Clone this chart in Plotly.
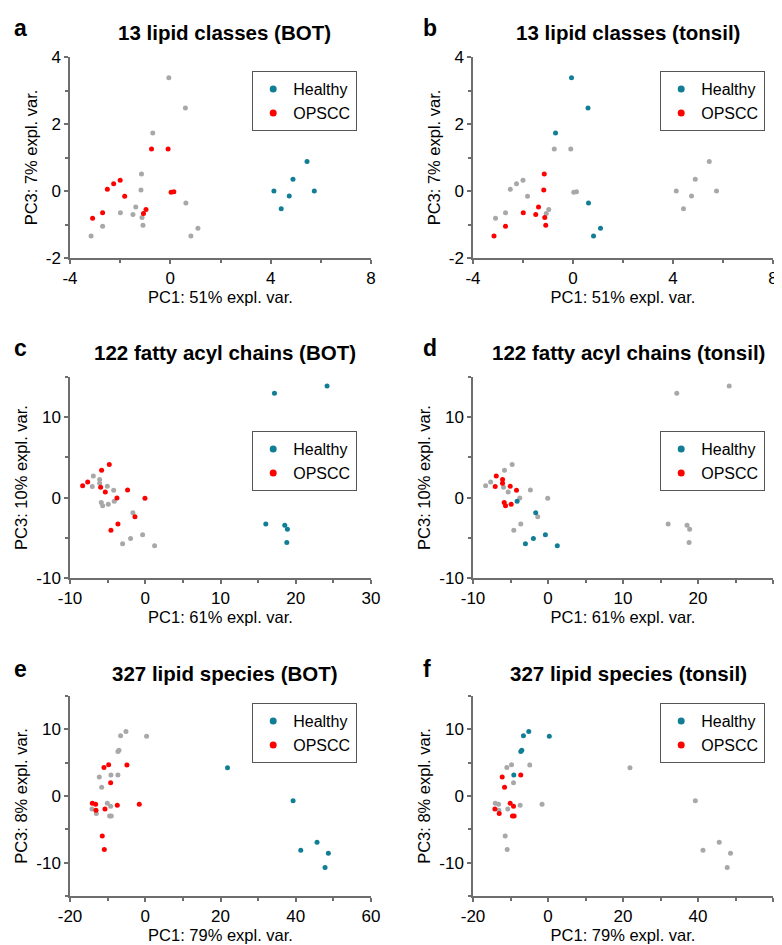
import plotly.graph_objects as go

# PCA scores (PC1, PC3)
# 13 lipid classes
cls_bot_h_x = [4.13, 4.42, 4.74, 4.89, 5.45, 5.74]
cls_bot_h_y = [0.0, -0.53, -0.15, 0.35, 0.88, 0.0]
cls_bot_o_x = [-0.75, -0.09, -2.0, -2.26, -2.51, -1.82, 0.03, 0.14, -2.70, -3.10, -0.97, -1.07]
cls_bot_o_y = [1.25, 1.25, 0.32, 0.22, 0.05, -0.16, -0.04, -0.02, -0.65, -0.81, -0.55, -0.67]
cls_ton_h_x = [-0.06, 0.60, -0.70, 0.62, 1.10, 0.82]
cls_ton_h_y = [3.38, 2.48, 1.73, -0.36, -1.11, -1.34]
cls_ton_o_x = [-1.15, -1.17, -1.38, -1.99, -1.49, -1.13, -1.09, -2.70, -3.16]
cls_ton_o_y = [0.51, 0.03, -0.48, -0.65, -0.70, -0.79, -1.02, -1.05, -1.34]

# 122 fatty acyl chains
fac_bot_h_x = [17.17, 24.16, 16.02, 18.54, 18.89, 18.81]
fac_bot_h_y = [12.97, 13.89, -3.28, -3.45, -3.95, -5.57]
fac_bot_o_x = [-4.78, -5.80, -7.65, -8.32, -5.93, -5.31, -2.35, -3.76, -0.04, -1.37, -3.63, -4.56]
fac_bot_o_y = [4.12, 3.41, 1.95, 1.46, 1.29, 0.71, 0.96, -0.04, -0.08, -2.37, -3.28, -4.07]
fac_ton_h_x = [-4.12, -1.64, -0.35, -1.95, -3.01, 1.24]
fac_ton_h_y = [-0.46, -1.87, -4.61, -5.10, -5.73, -5.98]
fac_ton_o_x = [-6.90, -6.06, -6.06, -7.04, -5.04, -4.20, -5.84, -5.66, -4.91]
fac_ton_o_y = [2.70, 2.24, 1.78, 1.37, 1.41, 0.91, -0.62, -1.0, -0.83]

# 327 lipid species
spc_bot_h_x = [21.86, 39.29, 45.66, 41.33, 48.67, 47.79]
spc_bot_h_y = [4.24, -0.70, -6.93, -8.13, -8.58, -10.72]
spc_bot_o_x = [-9.73, -10.97, -4.87, -9.20, -14.07, -13.19, -13.10, -10.71, -7.43, -1.59, -11.42, -10.88]
spc_bot_o_y = [4.69, 4.29, 4.64, 2.0, -1.10, -1.25, -2.14, -1.95, -1.40, -1.25, -5.99, -8.03]
spc_ton_h_x = [-5.13, -6.55, 0.35, -6.99, -7.26, -9.12]
spc_ton_h_y = [9.68, 9.03, 8.98, 6.88, 6.68, 3.14]
spc_ton_o_x = [-12.21, -11.59, -7.26, -10.09, -9.20, -14.16, -13.01, -9.47, -9.03]
spc_ton_o_y = [2.84, 1.30, 3.14, -1.10, -1.55, -1.95, -2.64, -2.99, -2.99]

titles = ["13 lipid classes (BOT)", "13 lipid classes (tonsil)",
          "122 fatty acyl chains (BOT)", "122 fatty acyl chains (tonsil)",
          "327 lipid species (BOT)", "327 lipid species (tonsil)"]
letters = ["a", "b", "c", "d", "e", "f"]
xtitles = ["PC1: 51% expl. var.", "PC1: 61% expl. var.", "PC1: 79% expl. var."]
ytitles = ["PC3: 7% expl. var.", "PC3: 10% expl. var.", "PC3: 8% expl. var."]

# axis ranges and tick labels per row
xranges = [(-4, 8), (-10, 30), (-20, 60)]
yranges = [(-2, 4), (-10, 15), (-15, 15)]
xtickvals = [[-4, 0, 4, 8], [-10, 0, 10, 20, 30], [-20, 0, 20, 40, 60]]
xticktext = [["-4", "0", "4", "8"], ["-10", "0", "10", "20", "30"], ["-20", "0", "20", "40", "60"]]
ytickvals = [[-2, 0, 2, 4], [-10, 0, 10], [-10, 0, 10]]
yticktext = [["-2", "0", "2", "4"], ["-10", "0", "10"], ["-10", "0", "10"]]
xminor = [2, 5, 10]
yminor = [1, 5, 5]

TEAL = "#127e96"
RED = "#ff0000"
GRAY = "#a8a8a8"
AXC = "#6e6e6e"
FONT = "Arial, Liberation Sans, sans-serif"

# the page body adds an 8px margin, so lay out in window pixels minus that offset
OFF = 8
W, H = 782 - OFF, 945 - OFF


def px(v):
    return (v - OFF) / W


def py(v):
    return 1 - (v - OFF) / H


xdom = [(px(70), px(371)), (px(473), px(773))]
ydom = [(py(258), py(57)), (py(578), py(377)), (py(896), py(696))]
title_y = [32, 352, 673]
legend_top = [71, 431, 703]
legend_right = [357, 765]

rows = [
    (cls_bot_h_x, cls_bot_h_y, cls_bot_o_x, cls_bot_o_y, cls_ton_h_x, cls_ton_h_y, cls_ton_o_x, cls_ton_o_y),
    (fac_bot_h_x, fac_bot_h_y, fac_bot_o_x, fac_bot_o_y, fac_ton_h_x, fac_ton_h_y, fac_ton_o_x, fac_ton_o_y),
    (spc_bot_h_x, spc_bot_h_y, spc_bot_o_x, spc_bot_o_y, spc_ton_h_x, spc_ton_h_y, spc_ton_o_x, spc_ton_o_y),
]

fig = go.Figure()
layout = dict(width=W, height=H, margin=dict(l=0, r=0, t=0, b=0, autoexpand=False),
              plot_bgcolor="white", paper_bgcolor="white",
              font=dict(family=FONT, color="black"), annotations=[])

k = 0
for r, (bhx, bhy, box, boy, thx, thy, tox, toy) in enumerate(rows):
    for c in range(2):
        k += 1
        ax = "" if k == 1 else str(k)
        lg = "legend" if k == 1 else "legend%d" % k
        # BOT panel: tonsil samples grey; tonsil panel: BOT samples grey
        if c == 0:
            gx, gy = thx + tox, thy + toy
            hx, hy, ox, oy = bhx, bhy, box, boy
        else:
            gx, gy = bhx + box, bhy + boy
            hx, hy, ox, oy = thx, thy, tox, toy
        common = dict(xaxis="x" + ax, yaxis="y" + ax, mode="markers", showlegend=False)
        fig.add_trace(go.Scatter(x=gx, y=gy, marker=dict(color=GRAY, size=5), **common))
        fig.add_trace(go.Scatter(x=hx, y=hy, marker=dict(color=TEAL, size=5), **common))
        fig.add_trace(go.Scatter(x=ox, y=oy, marker=dict(color=RED, size=5), **common))
        # legend-only entries with larger markers
        for nm, col in [("Healthy", TEAL), ("OPSCC", RED)]:
            fig.add_trace(go.Scatter(x=[None], y=[None], mode="markers", name=nm,
                                     marker=dict(color=col, size=7), legend=lg,
                                     xaxis="x" + ax, yaxis="y" + ax))
        tick_style = dict(showgrid=False, zeroline=False, showline=True, linecolor=AXC, linewidth=1.5,
                          ticks="outside", ticklen=4, tickwidth=1.5, tickcolor=AXC,
                          tickfont=dict(size=17, color="black"))
        layout["xaxis" + ax] = dict(
            domain=xdom[c], anchor="y" + ax, range=list(xranges[r]),
            tickvals=xtickvals[r], ticktext=xticktext[r],
            minor=dict(dtick=xminor[r], tick0=0, ticks="outside", ticklen=3, tickcolor=AXC, tickwidth=1.5),
            title=dict(text=xtitles[r], font=dict(size=16.5, color="black"), standoff=3),
            **tick_style,
        )
        layout["yaxis" + ax] = dict(
            domain=ydom[r], anchor="x" + ax, range=list(yranges[r]),
            tickvals=ytickvals[r], ticktext=yticktext[r],
            minor=dict(dtick=yminor[r], tick0=0, ticks="outside", ticklen=3, tickcolor=AXC, tickwidth=1.5),
            title=dict(text=ytitles[r], font=dict(size=16.5, color="black"), standoff=4),
            **tick_style,
        )
        layout[lg] = dict(
            x=px(legend_right[c]), y=py(legend_top[r]),
            xanchor="right", yanchor="top", bgcolor="white",
            bordercolor="#555555", borderwidth=1.2, tracegroupgap=0,
            font=dict(size=16, color="black"),
        )
        layout["annotations"].append(dict(
            text="<b>%s</b>" % titles[k - 1], xref="paper", yref="paper",
            x=px(225 if c == 0 else 628), y=py(title_y[r]),
            xanchor="center", yanchor="middle", showarrow=False,
            font=dict(size=20.5, color="black"),
        ))
        layout["annotations"].append(dict(
            text="<b>%s</b>" % letters[k - 1], xref="paper", yref="paper",
            x=px(12 if c == 0 else 421), y=py(title_y[r] - 4),
            xanchor="left", yanchor="middle", showarrow=False,
            font=dict(size=23, color="black"),
        ))

fig.update_layout(**layout)
fig.write_html("out.html")
